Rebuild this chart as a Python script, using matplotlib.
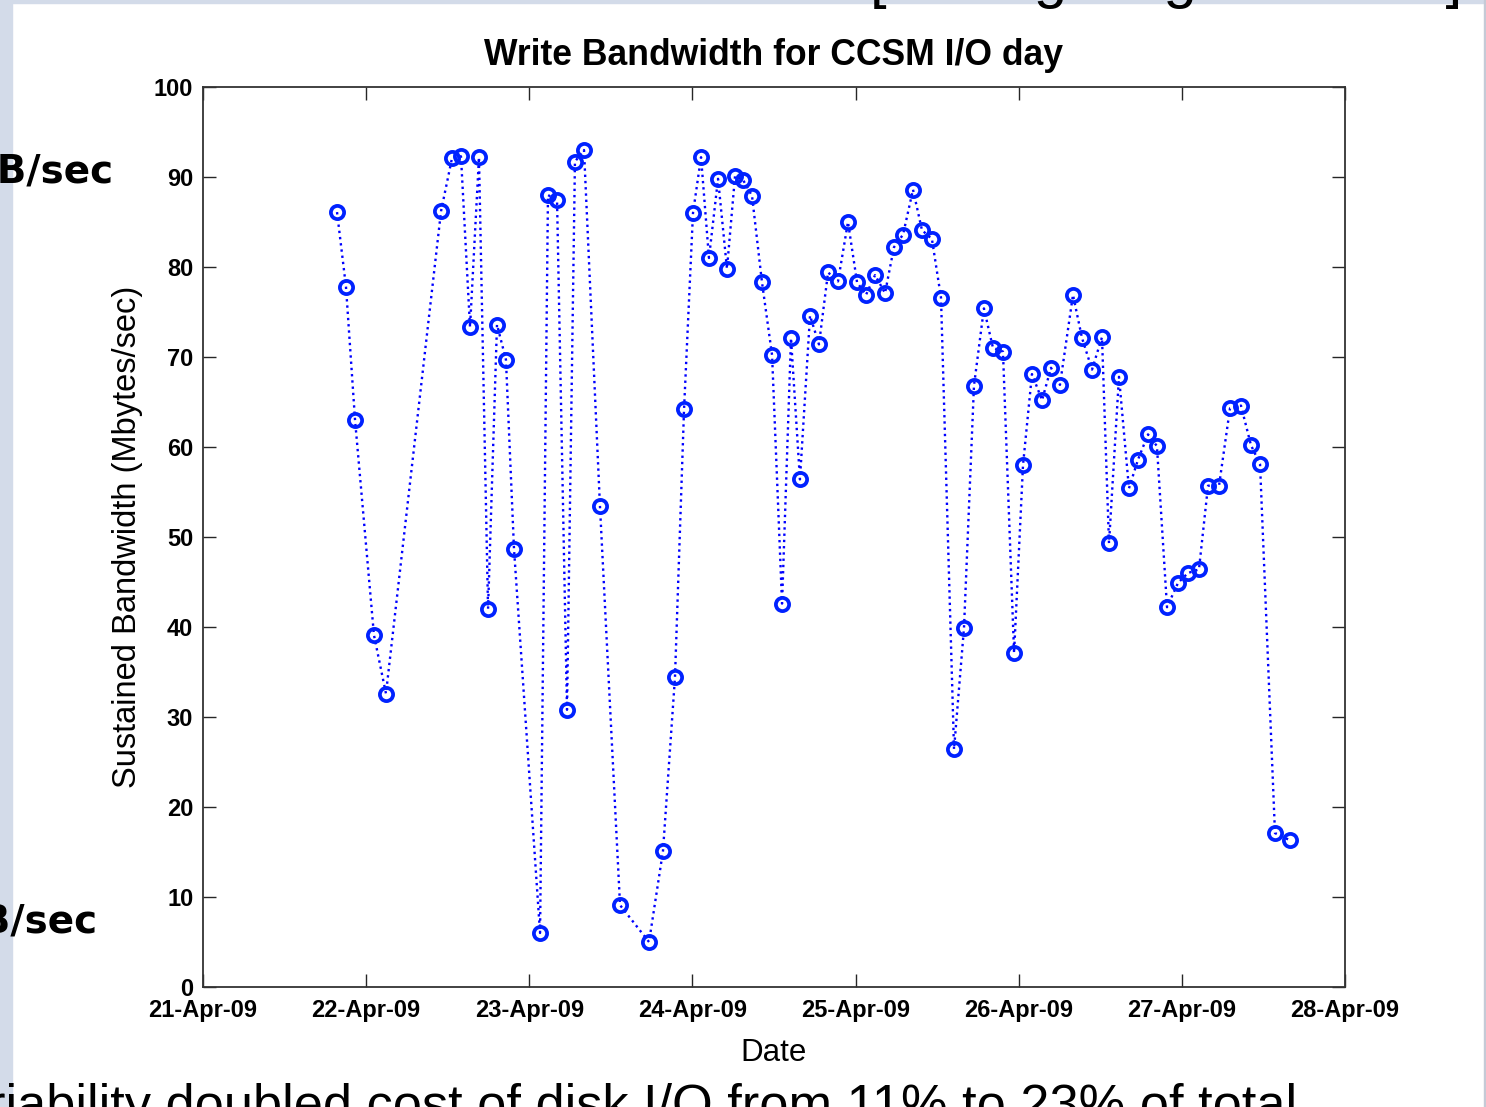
import matplotlib
matplotlib.use("Agg")
import matplotlib.pyplot as plt
import matplotlib.dates as mdates
from matplotlib.patches import Rectangle
import pandas as pd

plt.rcParams["font.family"] = ["Liberation Sans", "DejaVu Sans"]

# sample times (Apr 2009) and sustained write bandwidth
times = [
    "04-21 19:43", "04-21 21:02", "04-21 22:22", "04-22 01:09", "04-22 02:55",
    "04-22 11:01", "04-22 12:38", "04-22 13:57", "04-22 15:17", "04-22 16:36",
    "04-22 17:56", "04-22 19:15", "04-22 20:34", "04-22 21:45", "04-23 01:35",
    "04-23 02:45", "04-23 04:05", "04-23 05:33", "04-23 06:43", "04-23 08:03",
    "04-23 10:24", "04-23 13:21", "04-23 17:37", "04-23 19:40", "04-23 21:26",
    "04-23 22:46", "04-24 00:05", "04-24 01:16", "04-24 02:26", "04-24 03:46",
    "04-24 05:05", "04-24 06:16", "04-24 07:26", "04-24 08:46", "04-24 10:14",
    "04-24 11:43", "04-24 13:11", "04-24 14:30", "04-24 15:49", "04-24 17:18",
    "04-24 18:37", "04-24 19:57", "04-24 21:25", "04-24 22:53", "04-25 00:13",
    "04-25 01:32", "04-25 02:52", "04-25 04:20", "04-25 05:39", "04-25 06:59",
    "04-25 08:27", "04-25 09:46", "04-25 11:14", "04-25 12:34", "04-25 14:29",
    "04-25 15:57", "04-25 17:25", "04-25 18:53", "04-25 20:13", "04-25 21:41",
    "04-25 23:19", "04-26 00:38", "04-26 01:57", "04-26 03:26", "04-26 04:45",
    "04-26 06:04", "04-26 07:59", "04-26 09:19", "04-26 10:47", "04-26 12:15",
    "04-26 13:17", "04-26 14:45", "04-26 16:13", "04-26 17:33", "04-26 19:01",
    "04-26 20:20", "04-26 21:49", "04-26 23:26", "04-27 00:54", "04-27 02:31",
    "04-27 03:51", "04-27 05:28", "04-27 07:05", "04-27 08:42", "04-27 10:10",
    "04-27 11:30", "04-27 13:42", "04-27 15:55",
]
bandwidth = [
    86.1, 77.8, 63.0, 39.1, 32.6,
    86.2, 92.1, 92.3, 73.3, 92.2,
    42.0, 73.6, 69.7, 48.7, 6.0,
    88.0, 87.4, 30.8, 91.7, 93.0,
    53.4, 9.1, 5.0, 15.1, 34.4,
    64.2, 86.0, 92.2, 81.0, 89.8,
    79.8, 90.1, 89.7, 87.9, 78.3,
    70.2, 42.6, 72.1, 56.4, 74.6,
    71.4, 79.4, 78.4, 85.0, 78.3,
    76.9, 79.1, 77.1, 82.2, 83.6,
    88.6, 84.1, 83.1, 76.6, 26.4,
    39.9, 66.8, 75.4, 71.0, 70.6,
    37.1, 58.0, 68.1, 65.2, 68.8,
    66.9, 76.9, 72.1, 68.6, 72.2,
    49.3, 67.8, 55.4, 58.6, 61.4,
    60.1, 42.2, 44.9, 46.0, 46.4,
    55.7, 55.7, 64.3, 64.6, 60.2,
    58.1, 17.1, 16.3,
]
y_ticks = [0, 10, 20, 30, 40, 50, 60, 70, 80, 90, 100]
x_start, x_end = "2009-04-21", "2009-04-28"

W, H = 1486, 1107
t = pd.to_datetime(["2009-" + s for s in times])

fig = plt.figure(figsize=(W / 100, H / 100), dpi=100, facecolor="white")

# slide remnants around the pasted figure
ice = "#d3dbe9"
fig.add_artist(Rectangle((0, 0), 12 / W, 1, transform=fig.transFigure, color=ice, zorder=0))
fig.add_artist(Rectangle((0, 1 - 3 / H), 1, 3 / H, transform=fig.transFigure, color=ice, zorder=0))
fig.add_artist(Rectangle((1 - 2 / W, 0), 2 / W, 1, transform=fig.transFigure, color="#c5cad6", zorder=0))
fig.text(870 / W, 1 + 3 / H, "[Tuning long transfers]", fontsize=43, va="baseline", ha="left")
fig.text(113 / W, 1 - 183 / H, "MB/sec", fontsize=28, fontweight="bold",
         family="DejaVu Sans", ha="right", va="baseline", zorder=5)
fig.text(98 / W, 1 - 932 / H, "MB/sec", fontsize=28, fontweight="bold",
         family="DejaVu Sans", ha="right", va="baseline", zorder=5)
fig.text(1297 / W, 1 - 1121 / H,
         "Variability doubled cost of disk I/O from 11% to 23% of total",
         fontsize=37.7, ha="right", va="baseline")

ax = fig.add_axes([203 / W, 1 - 987 / H, (1345 - 203) / W, (987 - 87) / H])
ax.plot(t, bandwidth, ":", color="#0000ff", lw=1.7, marker="o", ms=9.5,
        mfc="none", mec="#0022ff", mew=2.7)

ax.set_xlim(pd.Timestamp(x_start), pd.Timestamp(x_end))
ax.set_ylim(y_ticks[0], y_ticks[-1])
ax.set_yticks(y_ticks)
ax.xaxis.set_major_locator(mdates.DayLocator())
ax.xaxis.set_major_formatter(mdates.DateFormatter("%d-%b-%y"))

ax.tick_params(direction="in", length=9.4, width=1, top=True, right=True,
               labelsize=17, color="#262626")
ax.tick_params(axis="x", pad=9)
ax.tick_params(axis="y", pad=7)
for lbl in ax.get_xticklabels() + ax.get_yticklabels():
    lbl.set_fontweight("bold")
for sp in ax.spines.values():
    sp.set_color("#333333")
    sp.set_linewidth(1.3)

ax.set_title("Write Bandwidth for CCSM I/O day", fontsize=25.6, fontweight="bold", pad=16)
ax.set_xlabel("Date", fontsize=22.5, labelpad=11)
ax.set_ylabel("Sustained Bandwidth (Mbytes/sec)", fontsize=23.5, labelpad=8)

fig.savefig("out.png", dpi=100, facecolor="white")
